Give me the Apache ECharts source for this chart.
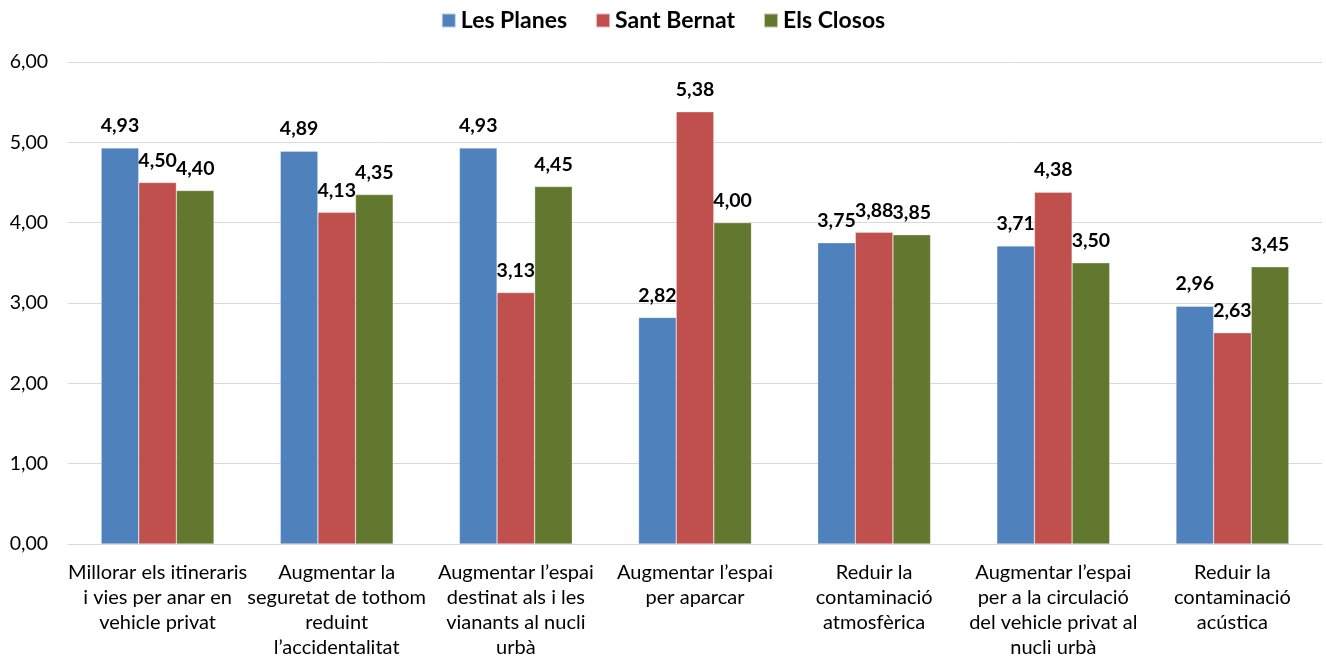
<!DOCTYPE html>
<html>
<head>
<meta charset="utf-8">
<script src="https://cdn.jsdelivr.net/npm/echarts@6/dist/echarts.min.js"></script>
<style>html,body{margin:0;padding:0;background:#fff}#c{width:1326px;height:660px}</style>
</head>
<body>
<div id="c"></div>
<script>
var categories = [
  "Millorar els itineraris\ni vies per anar en\nvehicle privat",
  "Augmentar la\nseguretat de tothom\nreduint\nl’accidentalitat",
  "Augmentar l’espai\ndestinat als i les\nvianants al nucli\nurbà",
  "Augmentar l’espai\nper aparcar",
  "Reduir la\ncontaminació\natmosfèrica",
  "Augmentar l’espai\nper a la circulació\ndel vehicle privat al\nnucli urbà",
  "Reduir la\ncontaminació\nacústica"
];
var seriesNames = ["Les Planes", "Sant Bernat", "Els Closos"];
var lesPlanes = [4.93, 4.89, 4.93, 2.82, 3.75, 3.71, 2.96];
var santBernat = [4.50, 4.13, 3.13, 5.38, 3.88, 4.38, 2.63];
var elsClosos = [4.40, 4.35, 4.45, 4.00, 3.85, 3.50, 3.45];
var colors = ["#4F81BD", "#C0504D", "#62782F"];

var font = "Lato, 'Open Sans', sans-serif";
function fmt(v){ return v.toFixed(2).replace('.', ','); }
function mk(name, data, color){
  return {
    name: name, type: 'bar', data: data,
    barGap: '0%', barCategoryGap: '37%',
    itemStyle: {color: color, borderColor: 'rgba(255,255,255,0.6)', borderWidth: 0.5},
    label: {show: true, position: 'top', distance: 12, fontFamily: font, fontWeight: 'bold', fontSize: 19.5, color: '#000',
      formatter: function(p){ return fmt(p.value); }}
  };
}
var chart = echarts.init(document.getElementById('c'));
chart.setOption({
  animation: false,
  legend: {
    top: 4, left: 'center', itemWidth: 14, itemHeight: 14, itemGap: 28,
    icon: 'rect',
    textStyle: {fontFamily: font, fontWeight: 'bold', fontSize: 23, color: '#000'},
    data: seriesNames
  },
  grid: {left: 68, right: 4, top: 62, bottom: 111, containLabel: false},
  xAxis: {
    type: 'category', data: categories,
    axisLine: {show: true, lineStyle: {color: '#D9D9D9'}},
    axisTick: {show: false},
    axisLabel: {interval: 0, margin: 16, fontFamily: font, fontSize: 20, color: '#000', lineHeight: 25}
  },
  yAxis: {
    type: 'value', min: 0, max: 6, interval: 1,
    axisLine: {show: false}, axisTick: {show: false},
    splitLine: {lineStyle: {color: '#D9D9D9', width: 1}},
    axisLabel: {margin: 20, fontFamily: font, fontSize: 19.5, color: '#000', formatter: function(v){ return fmt(v); }}
  },
  series: [mk(seriesNames[0], lesPlanes, colors[0]), mk(seriesNames[1], santBernat, colors[1]), mk(seriesNames[2], elsClosos, colors[2])]
});
</script>
</body>
</html>
